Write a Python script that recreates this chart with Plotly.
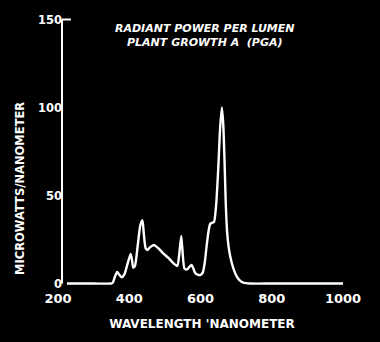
import plotly.graph_objects as go

# Spectrum (wavelength nm, microwatts/nm)
wavelength = [225, 300, 350, 354, 360, 366, 372, 379, 386, 395, 404, 408, 411, 416,
              424, 431, 437, 441, 446, 451, 458, 469, 482, 496, 510, 524, 535, 540,
              546, 550, 555, 562, 569, 575, 580, 585, 592, 599, 606, 612, 617, 622,
              627, 632, 638, 644, 650, 655, 660, 664, 668, 671, 675, 681, 688, 695,
              702, 710, 720, 740, 800, 900, 1000]
power = [0, 0, 0, 0.5, 4, 6.5, 5, 3.5, 5, 11, 16.8, 13, 9, 10,
         22, 33, 36, 28, 20, 19, 20.5, 21.9, 20, 17, 14.5, 11.5, 10, 16,
         27, 17, 8.5, 8, 9.5, 10.5, 8.5, 6, 5, 4.8, 6, 12, 21, 29,
         33.8, 34.5, 35, 45, 66, 88, 100, 90, 66, 45, 28.5, 18, 11.5, 7,
         3.9, 1.8, 0.5, 0, 0, 0, 0]

x_ticks = [200, 400, 600, 800, 1000]
y_ticks = [0, 50, 100, 150]

title_lines = ["RADIANT POWER PER LUMEN", "PLANT GROWTH A  (PGA)"]
x_title = "WAVELENGTH 'NANOMETER"
y_title = "MICROWATTS/NANOMETER"

W, H = 380, 342
L, R, T, B = 54, 30, 11, 57
px_per_nm = 0.35625
x0 = 200 - (58 - L) / px_per_nm
x1 = x0 + (W - L - R) / px_per_nm
px_per_unit = 1.76
y_top = (283.5 - T) / px_per_unit
y_bot = y_top - (H - T - B) / px_per_unit
axis_x = 200 + (62 - 58) / px_per_nm

FONT = "DejaVu Sans"
WHITE = "#ffffff"

fig = go.Figure()
fig.add_trace(go.Scatter(
    x=wavelength, y=power, mode="lines",
    line=dict(color=WHITE, width=2.4, shape="spline", smoothing=0.6),
    cliponaxis=False, hoverinfo="skip", showlegend=False,
))

fig.update_layout(
    width=W, height=H,
    margin=dict(l=L, r=R, t=T, b=B),
    paper_bgcolor="#000000", plot_bgcolor="#000000",
    font=dict(family=FONT, color=WHITE),
    xaxis=dict(range=[x0, x1], showgrid=False, zeroline=False, showline=False,
               tickvals=x_ticks, ticktext=[str(v) for v in x_ticks], ticks="",
               ticklabelstandoff=4,
               tickfont=dict(size=13, family=FONT, weight="bold"),
               title=dict(text=x_title, font=dict(size=12, family=FONT, weight="bold"),
                          standoff=14)),
    yaxis=dict(range=[y_bot, y_top], showgrid=False, zeroline=False, showline=False,
               anchor="free", position=(62 - L) / (W - L - R),
               tickvals=y_ticks, ticktext=[str(v) for v in y_ticks], ticks="",
               tickfont=dict(size=11.5, family=FONT, weight="bold")),
    shapes=[
        dict(type="line", xref="x", yref="y", x0=axis_x, x1=axis_x, y0=0, y1=150,
             line=dict(color=WHITE, width=2)),
        dict(type="line", xref="x", yref="y", x0=axis_x, x1=axis_x + 25, y0=150, y1=150,
             line=dict(color=WHITE, width=2)),
    ],
    annotations=[
        dict(text="<br>".join(title_lines), xref="paper", yref="paper",
             x=(205 - L) / (W - L - R), y=1 - (35 - T) / (H - T - B),
             showarrow=False, font=dict(size=11, family=FONT, weight="bold", style="italic"),
             align="center", xanchor="center", yanchor="middle"),
        dict(text=y_title, xref="paper", yref="paper", textangle=-90,
             x=(20 - L) / (W - L - R), y=1 - (189 - T) / (H - T - B),
             showarrow=False, font=dict(size=11.5, family=FONT, weight="bold"),
             xanchor="center", yanchor="middle"),
    ],
)

fig.write_html("out.html")
